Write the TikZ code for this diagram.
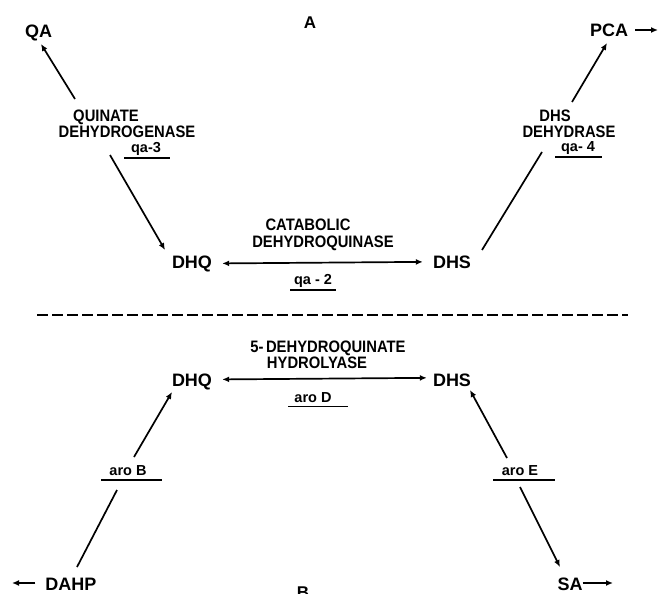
\documentclass[tikz,border=0pt]{standalone}
\usepackage{fontspec}
\setmainfont{Liberation Sans}
\usetikzlibrary{arrows.meta}
\newcommand\tallenz[1]{\scalebox{1}[1.12]{#1}}
\begin{document}
\begin{tikzpicture}[x=1pt,y=-1pt,
  cmpd/.style={font=\bfseries\fontsize{18}{18}\selectfont, inner sep=0pt, anchor=base},
  enz/.style={font=\bfseries\fontsize{14.8}{15}\selectfont, inner sep=0pt, anchor=base},
  gene/.style={font=\bfseries\fontsize{14.5}{15}\selectfont, inner sep=0pt, anchor=base},
  tag/.style={font=\bfseries\fontsize{17}{17}\selectfont, inner sep=0pt, anchor=base},
  line/.style={line width=1.7pt},
  conn/.style={line width=1.7pt, -{Latex[length=7pt,width=6pt]}},
  dconn/.style={line width=1.7pt, {Latex[length=7pt,width=6pt]}-{Latex[length=7pt,width=6pt]}},
  uline/.style={line width=1.4pt},
  sep/.style={line width=1.7pt, dash pattern=on 11pt off 4pt}]
\useasboundingbox (0,0) rectangle (661,594);

% panel letters
\node[tag] (A) at (310,29) {A};
\node[tag] (B) at (303,598) {B};

% compounds, panel A
\node[cmpd] (qa)   at (38.5,38) {QA};
\node[cmpd] (pca)  at (609,37)  {PCA};
\node[cmpd] (dhq1) at (192,268) {DHQ};
\node[cmpd] (dhs1) at (452,268) {DHS};

% compounds, panel B
\node[cmpd] (dhq2) at (192,386) {DHQ};
\node[cmpd] (dhs2) at (452,386) {DHS};
\node[cmpd] (dahp) at (71,590)  {DAHP};
\node[cmpd] (sa)   at (570,590) {SA};

% enzyme labels, panel A
\node[enz] (qdh1) at (106,121) {\tallenz{QUINATE}};
\node[enz] (qdh2) at (127,137.5) {\tallenz{DEHYDROGENASE}};
\node[gene] (qa3) at (146,152) {qa-3};
\draw[uline] (124,158) -- (170,158);

\node[enz] (cat1) at (308,230) {\tallenz{CATABOLIC}};
\node[enz] (cat2) at (323,247) {\tallenz{DEHYDROQUINASE}};
\node[gene] (qa2) at (313,284) {qa - 2};
\draw[uline] (290,290) -- (336,290);

\node[enz] (dd1) at (555,121) {\tallenz{DHS}};
\node[enz] (dd2) at (569,137) {\tallenz{DEHYDRASE}};
\node[gene] (qa4) at (578,151.5) {qa- 4};
\draw[uline] (555,157) -- (602,157);

% enzyme labels, panel B
\node[enz] (hl1) at (328,352) {\tallenz{5-\,DEHYDROQUINATE}};
\node[enz] (hl2) at (317,368) {\tallenz{HYDROLYASE}};
\node[gene] (aroD) at (313,402) {aro D};
\draw[uline] (288,406.5) -- (348,406.5);

\node[gene] (aroB) at (128,475) {aro B};
\draw[uline] (101,480) -- (162,480);

\node[gene] (aroE) at (520,475) {aro E};
\draw[uline] (493,480) -- (555,480);

% separator
\draw[sep] (37,315) -- (628,315);

% connector end points
\coordinate (qaS)   at (75,99);
\coordinate (qaT)   at (41,44);
\coordinate (dhq1S) at (110,155);
\coordinate (dhq1T) at (165,250);
\coordinate (pcaS)  at (572,102);
\coordinate (pcaT)  at (607,43);
\coordinate (dhs1S) at (482,250);
\coordinate (dhs1T) at (542,152);
\coordinate (dhq2S) at (134,457);
\coordinate (dhq2T) at (172,392);
\coordinate (dahpS) at (77,567);
\coordinate (dahpT) at (117,490);
\coordinate (dhs2S) at (507,458);
\coordinate (dhs2T) at (470,390);
\coordinate (saS)   at (520,487);
\coordinate (saT)   at (560,567);
\coordinate (pcaOut)  at (658,30);
\coordinate (dahpOut) at (12,583);
\coordinate (saOut)   at (613,583);

% panel A connectors
\draw[conn] (qaS) -- (qaT);
\draw[conn] (dhq1S) -- (dhq1T);
\draw[conn] (pcaS) -- (pcaT);
\draw[line] (dhs1S) -- (dhs1T);
\draw[dconn, shorten <=10pt, shorten >=10pt] (dhq1.east) -- (dhs1.west);
\draw[conn] (pca.east |- pcaOut) ++(7,0) -- (pcaOut);

% panel B connectors
\draw[dconn, shorten <=10pt, shorten >=6pt] ([yshift=2pt]dhq2.east) -- ([yshift=2pt]dhs2.west);
\draw[conn] (dhq2S) -- (dhq2T);
\draw[line] (dahpS) -- (dahpT);
\draw[conn] (dhs2S) -- (dhs2T);
\draw[conn] (saS) -- (saT);
\draw[conn] (dahp.west |- dahpOut) ++(-10,0) -- (dahpOut);
\draw[conn] (sa.east |- saOut) -- (saOut);
\end{tikzpicture}
\end{document}
